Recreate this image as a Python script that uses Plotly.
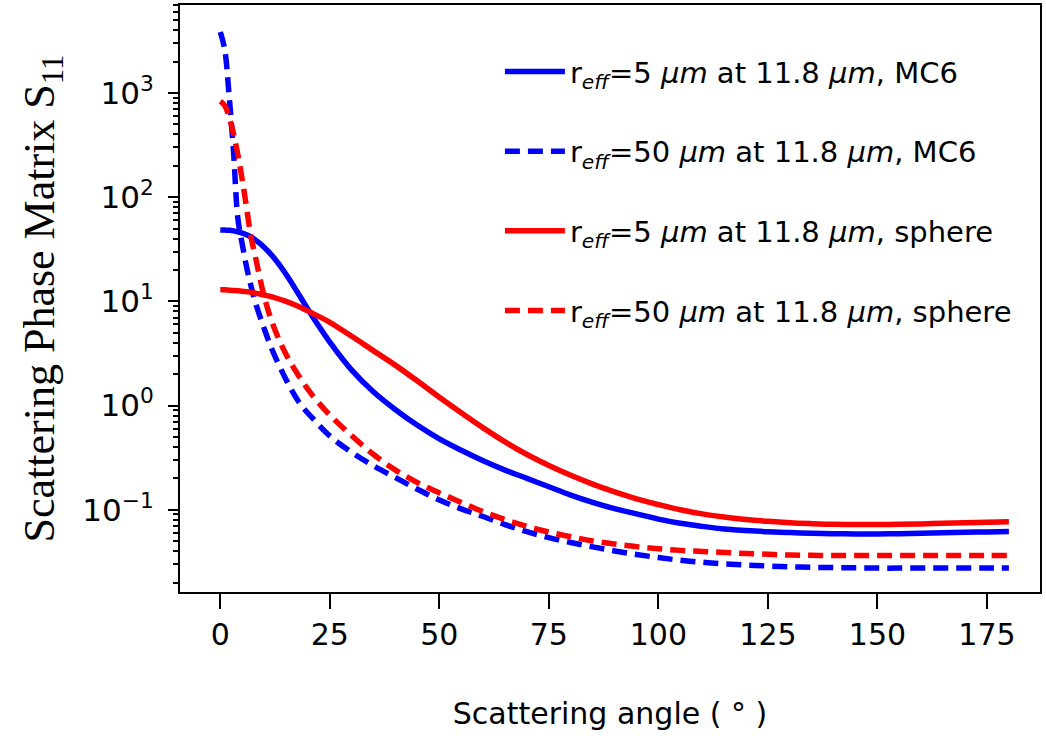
import plotly.graph_objects as go

# Scattering angle grid (degrees)
angle = [0, 1, 2, 3, 4, 5, 6, 7, 8, 10, 12, 15, 18, 21, 25,
         30, 35, 40, 45, 50, 55, 60, 65, 70, 75, 80, 85, 90, 95, 100, 105,
         110, 115, 120, 125, 130, 135, 140, 145, 150, 155, 160, 165, 170, 175, 180]

# S11 phase function values
mc6_r5 = [48.5, 48.3, 48.1, 47.5, 46.6, 45.3, 43.7, 41.5, 38.9, 33.1, 26.9, 18.2,
          11.5, 7.2, 4.07,
          2.19, 1.35, 0.912, 0.646, 0.479, 0.372, 0.295, 0.240, 0.200, 0.166,
          0.138, 0.1175, 0.1023, 0.0912, 0.0813, 0.0741, 0.0692, 0.0653, 0.0631,
          0.0614, 0.0603, 0.0594, 0.0589, 0.0586, 0.0586, 0.0589, 0.0594, 0.0600,
          0.0607, 0.0612, 0.0617]
mc6_r50 = [3850, 2630, 955, 282, 63, 35.5, 21.4, 14.1, 9.8, 5.5, 3.3, 1.78,
           1.07, 0.76, 0.51,
           0.355, 0.263, 0.203, 0.157, 0.124, 0.102, 0.086, 0.0720, 0.0615,
           0.0540, 0.0485, 0.0440, 0.0402, 0.0372, 0.0347, 0.0327, 0.0313,
           0.0302, 0.0294, 0.0288, 0.0283, 0.0280, 0.0278, 0.0277, 0.0275,
           0.0275, 0.0275, 0.0275, 0.0275, 0.0275, 0.0275]
sph_r5 = [12.9, 12.9, 12.8, 12.7, 12.65, 12.5, 12.4, 12.2, 12.0, 11.5, 11.0, 10.0,
          8.9, 7.7, 6.3,
          4.62, 3.35, 2.43, 1.72, 1.20, 0.851, 0.610, 0.447, 0.339, 0.266,
          0.214, 0.176, 0.148, 0.127, 0.112, 0.100, 0.0912, 0.0851, 0.0804,
          0.0773, 0.0750, 0.0735, 0.0724, 0.0721, 0.0721, 0.0724, 0.0731,
          0.0740, 0.0750, 0.0759, 0.0767]
sph_r50 = [832, 759, 589, 407, 257, 148, 79, 41.7, 26.9, 11.2, 6.0, 3.1, 1.9,
           1.26, 0.81,
           0.513, 0.339, 0.240, 0.182, 0.145, 0.1175, 0.0955, 0.0804, 0.0692,
           0.0610, 0.0550, 0.0501, 0.0468, 0.0442, 0.0422, 0.0407, 0.0398,
           0.0389, 0.0380, 0.0373, 0.0367, 0.0365, 0.0363, 0.0363, 0.0363,
           0.0363, 0.0363, 0.0363, 0.0363, 0.0363, 0.0363]

labels = [
    "r<sub><i>eff</i></sub>=5 <i>µm</i> at 11.8 <i>µm</i>, MC6",
    "r<sub><i>eff</i></sub>=50 <i>µm</i> at 11.8 <i>µm</i>, MC6",
    "r<sub><i>eff</i></sub>=5 <i>µm</i> at 11.8 <i>µm</i>, sphere",
    "r<sub><i>eff</i></sub>=50 <i>µm</i> at 11.8 <i>µm</i>, sphere",
]
series = [mc6_r5, mc6_r50, sph_r5, sph_r50]
colors = ["#0000ff", "#0000ff", "#ff0000", "#ff0000"]
dashes = ["solid", "15px,8px", "solid", "15px,8px"]

x_ticks = [0, 25, 50, 75, 100, 125, 150, 175]
y_ticks = [0.1, 1, 10, 100, 1000]
y_ticktext = ["10<sup>−1</sup>", "10<sup>0</sup>", "10<sup>1</sup>",
              "10<sup>2</sup>", "10<sup>3</sup>"]

SANS = "DejaVu Sans, sans-serif"

fig = go.Figure()
for i, (y, name, c, d) in enumerate(zip(series, labels, colors, dashes)):
    fig.add_trace(go.Scatter(
        x=angle, y=y, name=name, mode="lines",
        line=dict(color=c, width=5.5, dash=d, shape="spline", smoothing=1.0),
        legendgroup=f"g{i}",
    ))

minor_vals = [k * 10.0 ** e for e in range(-2, 4) for k in range(2, 10)]

fig.update_layout(
    width=1046, height=749,
    margin=dict(l=180, r=6, t=5, b=157, autoexpand=False),
    paper_bgcolor="white", plot_bgcolor="white",
    font=dict(family=SANS, color="black", size=30),
    showlegend=True,
    legend=dict(
        x=0.372, y=0.93, xanchor="left", yanchor="top",
        bgcolor="rgba(0,0,0,0)", borderwidth=0,
        font=dict(family=SANS, size=29, color="black"),
        traceorder="grouped", tracegroupgap=39, itemwidth=60,
    ),
    xaxis=dict(
        range=[-9.2, 187.1], tickvals=x_ticks,
        ticks="outside", ticklen=15, tickwidth=2, tickcolor="black",
        showline=True, linecolor="black", linewidth=2, mirror=True,
        showgrid=False, zeroline=False,
        tickfont=dict(family=SANS, size=30),
        title=dict(text="Scattering angle ( ° )", font=dict(family=SANS, size=30), standoff=52),
    ),
    yaxis=dict(
        type="log", range=[-1.79, 3.845], tickvals=y_ticks, ticktext=y_ticktext,
        ticks="outside", ticklen=10, tickwidth=2, tickcolor="black",
        minor=dict(tickvals=minor_vals, ticks="outside", ticklen=5, tickwidth=1.5,
                   tickcolor="black", showgrid=False),
        showline=True, linecolor="black", linewidth=2, mirror=True,
        showgrid=False, zeroline=False, ticklabelstandoff=8,
        tickfont=dict(family=SANS, size=31),
        title=dict(text="Scattering Phase Matrix S<sub>11</sub>",
                   font=dict(family="Liberation Serif, Times New Roman, serif", size=44),
                   standoff=14),
    ),
)

fig.write_html("out.html")
